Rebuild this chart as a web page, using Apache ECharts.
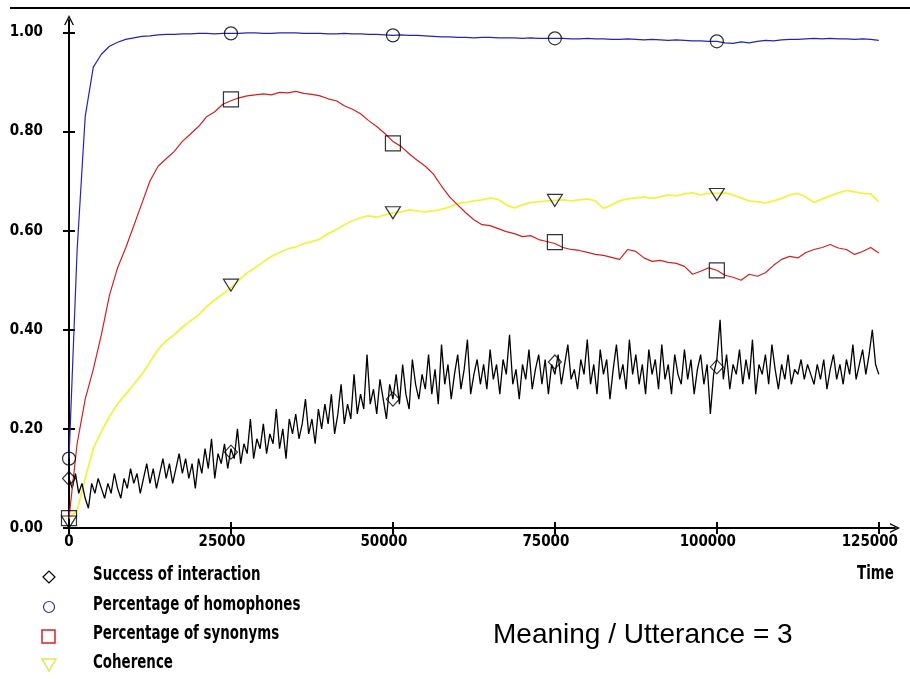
<!DOCTYPE html>
<html>
<head>
<meta charset="utf-8">
<script src="https://cdn.jsdelivr.net/npm/echarts@6/dist/echarts.min.js"></script>
<style>
  html, body { margin: 0; padding: 0; background: #fff; }
  #chart { width: 910px; height: 679px; }
</style>
</head>
<body>
<div id="chart"></div>
<script>
// sample times (x values), ticks
function steps (from, to, step) {
  var out = []
  for (var t = from; t <= to; t += step) out.push(t)
  return out
}
var smoothTimes = steps(0, 125000, 1250)
var successTimes = steps(0, 125000, 500)
var xTicks = [0, 25000, 50000, 75000, 100000, 125000]
var yTicks = [0, 0.2, 0.4, 0.6, 0.8, 1.0]

// Percentage of homophones (blue)
var homophones = [
  0.14, 0.56, 0.83, 0.93, 0.956, 0.972, 0.98, 0.986, 0.989, 0.992,
  0.993, 0.995, 0.996, 0.996, 0.997, 0.997, 0.998, 0.998, 0.997, 0.998,
  0.998, 0.998, 0.999, 0.999, 0.998, 0.998, 0.999, 0.999, 0.999, 0.998,
  0.998, 0.998, 0.997, 0.997, 0.998, 0.997, 0.997, 0.996, 0.996, 0.995,
  0.994, 0.995, 0.994, 0.994, 0.993, 0.992, 0.991, 0.991, 0.990, 0.990,
  0.989, 0.990, 0.990, 0.989, 0.989, 0.989, 0.988, 0.989, 0.988, 0.988,
  0.988, 0.988, 0.987, 0.987, 0.988, 0.987, 0.987, 0.986, 0.986, 0.987,
  0.986, 0.985, 0.986, 0.985, 0.984, 0.985, 0.984, 0.983, 0.983, 0.982,
  0.982, 0.979, 0.978, 0.981, 0.979, 0.982, 0.984, 0.983, 0.985, 0.986,
  0.986, 0.987, 0.988, 0.987, 0.988, 0.987, 0.987, 0.986, 0.987, 0.986,
  0.984
]

// Percentage of synonyms (red)
var synonyms = [
  0.02, 0.17, 0.26, 0.32, 0.39, 0.47, 0.525, 0.565, 0.61, 0.655,
  0.70, 0.73, 0.745, 0.76, 0.78, 0.795, 0.81, 0.83, 0.84, 0.855,
  0.862, 0.868, 0.872, 0.874, 0.876, 0.874, 0.879, 0.878, 0.881, 0.877,
  0.875, 0.872, 0.866, 0.862, 0.852, 0.845, 0.836, 0.822, 0.81, 0.796,
  0.78, 0.77, 0.755, 0.742, 0.73, 0.714, 0.69, 0.668, 0.652, 0.636,
  0.622, 0.612, 0.61, 0.604, 0.598, 0.594, 0.588, 0.59, 0.582, 0.578,
  0.574, 0.566, 0.562, 0.56, 0.556, 0.552, 0.55, 0.546, 0.542, 0.562,
  0.558, 0.545, 0.538, 0.54, 0.536, 0.534, 0.528, 0.512, 0.518, 0.525,
  0.52, 0.51, 0.506, 0.50, 0.512, 0.508, 0.515, 0.53, 0.542, 0.548,
  0.545, 0.556, 0.562, 0.566, 0.572, 0.565, 0.562, 0.552, 0.558, 0.566,
  0.555
]

// Coherence (yellow)
var coherence = [
  0.02, 0.035, 0.10, 0.16, 0.195, 0.225, 0.25, 0.27, 0.29, 0.31,
  0.335, 0.36, 0.378, 0.39, 0.405, 0.418, 0.43, 0.447, 0.46, 0.472,
  0.485, 0.50, 0.515, 0.525, 0.537, 0.548, 0.556, 0.563, 0.567, 0.574,
  0.578, 0.583, 0.594, 0.602, 0.612, 0.62, 0.626, 0.63, 0.627, 0.632,
  0.636, 0.638, 0.642, 0.64, 0.638, 0.64, 0.643, 0.648, 0.655, 0.657,
  0.66, 0.662, 0.666, 0.663, 0.652, 0.646, 0.652, 0.657, 0.658, 0.66,
  0.661, 0.662, 0.66, 0.662, 0.664, 0.66, 0.645, 0.652, 0.66, 0.664,
  0.666, 0.668, 0.665, 0.668, 0.672, 0.67, 0.674, 0.676, 0.672, 0.675,
  0.675, 0.676, 0.672, 0.666, 0.66, 0.658, 0.656, 0.66, 0.665, 0.672,
  0.675, 0.668, 0.657, 0.664, 0.67, 0.676, 0.681, 0.678, 0.675, 0.674,
  0.658
]

// Success of interaction (black, every 500)
var success = [
  0.10, 0.08, 0.11, 0.07, 0.09, 0.06, 0.04, 0.09, 0.07, 0.10,
  0.08, 0.06, 0.09, 0.07, 0.11, 0.08, 0.06, 0.10, 0.08, 0.12,
  0.09, 0.11, 0.07, 0.10, 0.13, 0.09, 0.12, 0.08, 0.11, 0.14,
  0.10, 0.13, 0.09, 0.12, 0.15, 0.11, 0.14, 0.10, 0.13, 0.08,
  0.14, 0.11, 0.16, 0.12, 0.18, 0.10, 0.15, 0.13, 0.17, 0.12,
  0.16, 0.14, 0.20, 0.13, 0.17, 0.15, 0.22, 0.14, 0.18, 0.16,
  0.21, 0.15, 0.19, 0.17, 0.24, 0.16, 0.20, 0.14, 0.22, 0.19,
  0.23, 0.18, 0.21, 0.26, 0.19, 0.22, 0.17, 0.24, 0.20, 0.25,
  0.21, 0.27, 0.19, 0.23, 0.29, 0.21, 0.25, 0.22, 0.31, 0.23,
  0.27, 0.24, 0.35, 0.25, 0.28, 0.23, 0.30, 0.26, 0.22, 0.29,
  0.26, 0.31, 0.25, 0.33, 0.27, 0.24, 0.34, 0.29, 0.26, 0.31,
  0.28, 0.35, 0.27, 0.32, 0.25, 0.37, 0.29, 0.33, 0.26, 0.31,
  0.35, 0.28, 0.32, 0.38, 0.27, 0.31, 0.34, 0.29, 0.33, 0.28,
  0.36, 0.30, 0.33, 0.27, 0.34, 0.31, 0.39, 0.29, 0.32, 0.26,
  0.33, 0.30, 0.36, 0.28, 0.32, 0.35, 0.29, 0.34, 0.27, 0.33,
  0.31, 0.35, 0.29, 0.33, 0.37, 0.30, 0.32, 0.28, 0.34, 0.31,
  0.38, 0.29, 0.33, 0.27, 0.36, 0.31, 0.34, 0.26, 0.32, 0.37,
  0.30, 0.33, 0.28, 0.38, 0.31, 0.35, 0.29, 0.33, 0.27, 0.36,
  0.31, 0.34, 0.28, 0.37, 0.30, 0.33, 0.27, 0.35, 0.31, 0.29,
  0.36, 0.30, 0.34, 0.27, 0.32, 0.35, 0.29, 0.33, 0.23, 0.31,
  0.34, 0.42, 0.30, 0.35, 0.28, 0.33, 0.31, 0.36, 0.29, 0.34,
  0.30, 0.38, 0.27, 0.33, 0.31, 0.35, 0.29, 0.37, 0.32, 0.28,
  0.33, 0.30, 0.35, 0.29, 0.32, 0.31, 0.34, 0.30, 0.33, 0.31,
  0.29, 0.33, 0.30, 0.34, 0.28, 0.32, 0.35, 0.30, 0.33, 0.29,
  0.34, 0.31, 0.37, 0.30, 0.33, 0.36, 0.31, 0.35, 0.40, 0.33,
  0.31
]

// marker positions
var markTimes = [0, 25000, 50000, 75000, 100000]
var successMarks = [0.10, 0.153, 0.26, 0.335, 0.325]
var homophoneMarks = [0.14, 0.998, 0.994, 0.988, 0.982]
var synonymMarks = [0.02, 0.865, 0.776, 0.577, 0.52]
var coherenceMarks = [0.012, 0.49, 0.636, 0.661, 0.673]

var legendNames = ['Success of interaction', 'Percentage of homophones', 'Percentage of synonyms', 'Coherence']

function pairs (xs, ys) {
  return xs.map(function (x, i) { return [x, ys[i]] })
}

var chevron = 'path://M0,10 L5,0 L10,10 L8.6,10 L5,3 L1.4,10 Z'
var boldFont = '"DejaVu Sans Condensed", "DejaVu Sans", sans-serif'

function lineSeries (name, times, values, color, width, z) {
  return {
    name: name,
    type: 'line',
    data: pairs(times, values),
    showSymbol: false,
    symbol: 'none',
    lineStyle: { color: color, width: width },
    z: z,
    animation: false
  }
}

function markSeries (values, symbol, size, rotate) {
  return {
    type: 'scatter',
    data: pairs(markTimes, values),
    symbol: symbol,
    symbolSize: size,
    symbolRotate: rotate || 0,
    itemStyle: { color: 'rgba(0,0,0,0)', borderColor: '#000', borderWidth: 1.2 },
    z: 10,
    animation: false
  }
}

var myChart = echarts.init(document.getElementById('chart'))

var legendY = [575, 605, 634, 663]
var legendSymbols = [
  { type: 'polygon', shape: { points: [[43, 577], [49, 571], [55, 577], [49, 583]] }, style: { fill: 'none', stroke: '#000', lineWidth: 1.2 } },
  { type: 'circle', shape: { cx: 49, cy: 607, r: 5.5 }, style: { fill: 'none', stroke: '#3030a8', lineWidth: 1.2 } },
  { type: 'rect', shape: { x: 42, y: 630, width: 13, height: 13 }, style: { fill: 'none', stroke: '#e02020', lineWidth: 1.5 } },
  { type: 'polygon', shape: { points: [[42, 659], [56, 659], [49, 671]] }, style: { fill: 'none', stroke: '#e4e45c', lineWidth: 1.5 } }
]
var legendTexts = legendNames.map(function (name, i) {
  return {
    type: 'text',
    x: 93,
    y: legendY[i],
    scaleX: 0.67,
    style: { text: name, font: 'bold 20px "DejaVu Sans"', fill: '#000', align: 'left', verticalAlign: 'middle' }
  }
})

var option = {
  backgroundColor: '#fff',
  animation: false,
  grid: { left: 69, right: 15, top: 20, bottom: 151, containLabel: false },
  xAxis: [
    {
      type: 'value',
      min: 0,
      max: 127500,
      position: 'bottom',
      axisLine: { onZero: false, lineStyle: { color: '#000', width: 2 }, symbol: ['none', chevron], symbolSize: [10, 10] },
      axisTick: { length: 6, customValues: xTicks, lineStyle: { color: '#000', width: 2 } },
      axisLabel: {
        customValues: xTicks,
        formatter: function (v) { return v === 0 ? '{z|0}' : '{n|' + String(v) + '}' },
        color: '#000',
        fontFamily: boldFont,
        fontWeight: 'bold',
        fontSize: 15,
        margin: 7,
        rich: {
          z: { color: '#000', fontFamily: boldFont, fontWeight: 'bold', fontSize: 15 },
          n: { color: '#000', fontFamily: boldFont, fontWeight: 'bold', fontSize: 15, padding: [0, 18, 0, 0] }
        }
      },
      splitLine: { show: false }
    },
    {
      type: 'value',
      min: 0,
      max: 127500,
      position: 'bottom',
      axisLine: { show: false, onZero: false },
      axisTick: { inside: true, length: 6, customValues: xTicks, lineStyle: { color: '#000', width: 2 } },
      axisLabel: { show: false },
      splitLine: { show: false }
    }
  ],
  yAxis: [
    {
      type: 'value',
      min: 0,
      max: 1.025,
      position: 'left',
      axisLine: { show: true, onZero: false, lineStyle: { color: '#000', width: 2 }, symbol: ['none', chevron], symbolSize: [10, 10] },
      axisTick: { show: true, length: 6, customValues: yTicks, lineStyle: { color: '#000', width: 2 } },
      axisLabel: {
        customValues: yTicks,
        formatter: function (v) { return v.toFixed(2) },
        color: '#000',
        fontFamily: boldFont,
        fontWeight: 'bold',
        fontSize: 15,
        margin: 26
      },
      splitLine: { show: false }
    },
    {
      type: 'value',
      min: 0,
      max: 1.025,
      position: 'left',
      axisLine: { show: false, onZero: false },
      axisTick: { show: true, inside: true, length: 6, customValues: yTicks, lineStyle: { color: '#000', width: 2 } },
      axisLabel: { show: false },
      splitLine: { show: false }
    }
  ],
  series: [
    lineSeries(legendNames[3], smoothTimes, coherence, '#f2f244', 1.8, 2),
    lineSeries(legendNames[0], successTimes, success, '#000', 1.3, 3),
    lineSeries(legendNames[2], smoothTimes, synonyms, '#d02020', 1.2, 4),
    lineSeries(legendNames[1], smoothTimes, homophones, '#2424b8', 1.2, 5),
    markSeries(successMarks, 'diamond', [13, 14]),
    markSeries(homophoneMarks, 'circle', 13),
    markSeries(synonymMarks, 'rect', 15),
    markSeries(coherenceMarks, 'triangle', [15, 12], 180)
  ],
  graphic: [
    { type: 'line', shape: { x1: 10, y1: 8, x2: 910, y2: 8 }, style: { stroke: '#000', lineWidth: 2 } },
    {
      type: 'text',
      x: 857,
      y: 574,
      scaleX: 0.67,
      style: { text: 'Time', font: 'bold 20px "DejaVu Sans"', fill: '#000', align: 'left', verticalAlign: 'middle' }
    },
    {
      type: 'text',
      x: 493,
      y: 635,
      style: { text: 'Meaning / Utterance = 3', font: '28px "Liberation Sans", Arial, sans-serif', fill: '#000', align: 'left', verticalAlign: 'middle' }
    }
  ].concat(legendSymbols).concat(legendTexts)
}

myChart.setOption(option)
</script>
</body>
</html>
